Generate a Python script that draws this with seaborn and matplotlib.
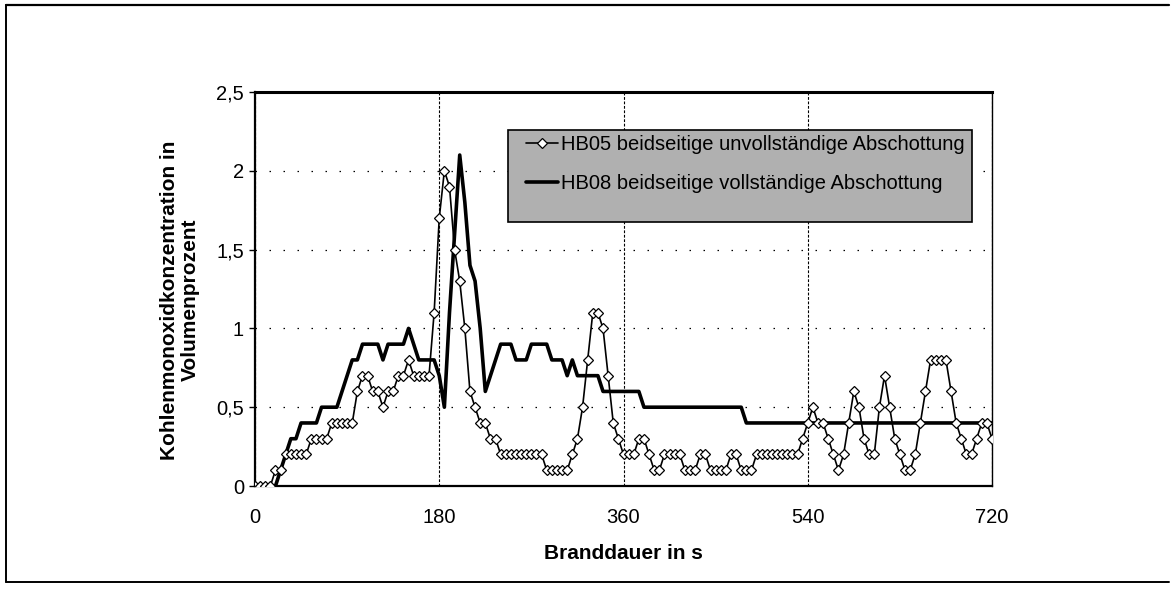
import numpy as np
import pandas as pd
import matplotlib
matplotlib.use("Agg")
import matplotlib.pyplot as plt
from matplotlib.patches import Rectangle
from matplotlib.lines import Line2D
import seaborn as sns

# CO concentration (vol-%) logged every 5 s
sample_step_s = 5

hb05 = [
    0, 0, 0, 0, 0.1, 0.1, 0.2, 0.2, 0.2, 0.2,            # 0-45 s
    0.2, 0.3, 0.3, 0.3, 0.3, 0.4, 0.4, 0.4, 0.4, 0.4,    # 50-95 s
    0.6, 0.7, 0.7, 0.6, 0.6, 0.5, 0.6, 0.6, 0.7, 0.7,    # 100-145 s
    0.8, 0.7, 0.7, 0.7, 0.7, 1.1, 1.7, 2.0, 1.9, 1.5,    # 150-195 s
    1.3, 1.0, 0.6, 0.5, 0.4, 0.4, 0.3, 0.3, 0.2, 0.2,    # 200-245 s
    0.2, 0.2, 0.2, 0.2, 0.2, 0.2, 0.2, 0.1, 0.1, 0.1,    # 250-295 s
    0.1, 0.1, 0.2, 0.3, 0.5, 0.8, 1.1, 1.1, 1.0, 0.7,    # 300-345 s
    0.4, 0.3, 0.2, 0.2, 0.2, 0.3, 0.3, 0.2, 0.1, 0.1,    # 350-395 s
    0.2, 0.2, 0.2, 0.2, 0.1, 0.1, 0.1, 0.2, 0.2, 0.1,    # 400-445 s
    0.1, 0.1, 0.1, 0.2, 0.2, 0.1, 0.1, 0.1, 0.2, 0.2,    # 450-495 s
    0.2, 0.2, 0.2, 0.2, 0.2, 0.2, 0.2, 0.3, 0.4, 0.5,    # 500-545 s
    0.4, 0.4, 0.3, 0.2, 0.1, 0.2, 0.4, 0.6, 0.5, 0.3,    # 550-595 s
    0.2, 0.2, 0.5, 0.7, 0.5, 0.3, 0.2, 0.1, 0.1, 0.2,    # 600-645 s
    0.4, 0.6, 0.8, 0.8, 0.8, 0.8, 0.6, 0.4, 0.3, 0.2,    # 650-695 s
    0.2, 0.3, 0.4, 0.4, 0.3,                             # 700-720 s
]

hb08 = [
    0, 0, 0, 0, 0, 0.1, 0.2, 0.3, 0.3, 0.4,              # 0-45 s
    0.4, 0.4, 0.4, 0.5, 0.5, 0.5, 0.5, 0.6, 0.7, 0.8,    # 50-95 s
    0.8, 0.9, 0.9, 0.9, 0.9, 0.8, 0.9, 0.9, 0.9, 0.9,    # 100-145 s
    1.0, 0.9, 0.8, 0.8, 0.8, 0.8, 0.7, 0.5, 1.1, 1.6,    # 150-195 s
    2.1, 1.8, 1.4, 1.3, 1.0, 0.6, 0.7, 0.8, 0.9, 0.9,    # 200-245 s
    0.9, 0.8, 0.8, 0.8, 0.9, 0.9, 0.9, 0.9, 0.8, 0.8,    # 250-295 s
    0.8, 0.7, 0.8, 0.7, 0.7, 0.7, 0.7, 0.7, 0.6, 0.6,    # 300-345 s
    0.6, 0.6, 0.6, 0.6, 0.6, 0.6, 0.5, 0.5, 0.5, 0.5,    # 350-395 s
    0.5, 0.5, 0.5, 0.5, 0.5, 0.5, 0.5, 0.5, 0.5, 0.5,    # 400-445 s
    0.5, 0.5, 0.5, 0.5, 0.5, 0.5, 0.4, 0.4, 0.4, 0.4,    # 450-495 s
    0.4, 0.4, 0.4, 0.4, 0.4, 0.4, 0.4, 0.4, 0.4, 0.4,    # 500-545 s
    0.4, 0.4, 0.4, 0.4, 0.4, 0.4, 0.4, 0.4, 0.4, 0.4,    # 550-595 s
    0.4, 0.4, 0.4, 0.4, 0.4, 0.4, 0.4, 0.4, 0.4, 0.4,    # 600-645 s
    0.4, 0.4, 0.4, 0.4, 0.4, 0.4, 0.4, 0.4, 0.4, 0.4,    # 650-695 s
    0.4, 0.4, 0.4, 0.4, 0.4,                             # 700-720 s
]

series_names = [
    "HB05 beidseitige unvollständige Abschottung",
    "HB08 beidseitige vollständige Abschottung",
]
x_ticks = [0, 180, 360, 540, 720]
y_ticks = [0, 0.5, 1, 1.5, 2, 2.5]
y_tick_labels = ["0", "0,5", "1", "1,5", "2", "2,5"]
x_label = "Branddauer in s"
y_label = "Kohlenmonoxidkonzentration in\nVolumenprozent"

time_s = np.arange(len(hb05)) * sample_step_s
df05 = pd.DataFrame({"Zeit": time_s, "CO": hb05})
df08 = pd.DataFrame({"Zeit": time_s, "CO": hb08})

sns.set_theme(style="white")
plt.rcParams["font.family"] = ["Liberation Sans", "DejaVu Sans"]

W, H = 1172, 591
fig = plt.figure(figsize=(W / 100, H / 100), dpi=100)
fig.patch.set_facecolor("white")

# plot area in pixels: left 255, right 992, top 92, bottom 486
L, R, T, B = 255, 992, 92, 486
ax = fig.add_axes([L / W, 1 - B / H, (R - L) / W, (B - T) / H])
ax.set_facecolor("white")

def ax_x(px):
    return (px - L) / (R - L)

def ax_y(py):
    return (B - py) / (B - T)

sns.lineplot(data=df08, x="Zeit", y="CO", ax=ax, color="black",
             linewidth=2.6, label=series_names[1], zorder=3)
sns.lineplot(data=df05, x="Zeit", y="CO", ax=ax, color="black",
             linewidth=1.2, marker="D", markersize=5.5,
             markerfacecolor="white", markeredgecolor="black",
             markeredgewidth=0.9, label=series_names[0], zorder=4)

ax.set_xlim(0, 720)
ax.set_ylim(0, 2.5)
ax.set_xticks(x_ticks)
ax.set_xticklabels([str(t) for t in x_ticks])
ax.set_yticks(y_ticks)
ax.set_yticklabels(y_tick_labels)

# gridlines
ax.grid(False)
ax.yaxis.grid(True, linestyle=(0, (1.2, 10)), color="black", linewidth=0.9)
ax.xaxis.grid(True, linestyle=(0, (2.5, 1.5)), color="black", linewidth=0.8)
ax.set_axisbelow(True)

for side, lw in (("left", 1.6), ("bottom", 1.6), ("top", 2.2), ("right", 1.0)):
    ax.spines[side].set_visible(True)
    ax.spines[side].set_color("black")
    ax.spines[side].set_linewidth(lw)

ax.tick_params(axis="y", left=True, length=4, width=1.0, color="black",
               pad=4, labelsize=14.5, labelcolor="black")
ax.tick_params(axis="x", bottom=False, length=0, pad=16,
               labelsize=14.5, labelcolor="black")

ax.set_xlabel(x_label, fontsize=15, fontweight="bold", color="black")
ax.xaxis.set_label_coords(0.5, ax_y(544))
ax.set_ylabel(y_label, fontsize=15, fontweight="bold", color="black",
              linespacing=1.15)
ax.yaxis.set_label_coords(ax_x(200), ax_y(300))

# legend box
box = Rectangle((ax_x(508), ax_y(222)), ax_x(972) - ax_x(508),
                ax_y(130) - ax_y(222), transform=ax.transAxes,
                facecolor="#b0b0b0", edgecolor="black", linewidth=1.2,
                zorder=5)
ax.add_patch(box)

handles, labels = ax.get_legend_handles_labels()
order = [labels.index(n) for n in series_names]
leg = ax.legend([handles[i] for i in order], [labels[i] for i in order],
                loc="upper left", bbox_to_anchor=(ax_x(526), ax_y(135)),
                frameon=False, fontsize=14.5, handlelength=1.6,
                handletextpad=0.15, labelspacing=1.0, borderpad=0,
                borderaxespad=0)
leg.set_zorder(6)
for txt in leg.get_texts():
    txt.set_color("black")

# page frame around the chart
fx0, fx1 = 6 / W, 1169 / W
fy_top, fy_bot = 1 - 5 / H, 1 - 582 / H
fig.add_artist(Line2D([fx0, fx1], [fy_top, fy_top], color="black", linewidth=1.6))
fig.add_artist(Line2D([fx0, fx0], [fy_bot, fy_top], color="black", linewidth=1.4))
fig.add_artist(Line2D([fx0, fx1], [fy_bot, fy_bot], color="black", linewidth=1.4))

fig.savefig("out.png", dpi=100, facecolor="white")
